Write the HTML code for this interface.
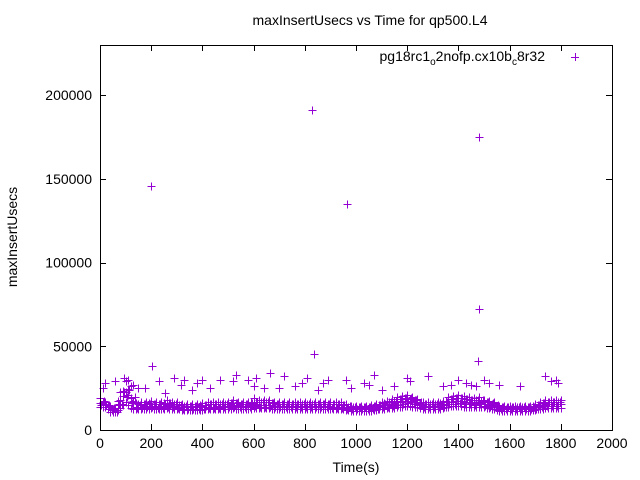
<!DOCTYPE html>
<html><head><meta charset="utf-8">
<style>
html,body{margin:0;padding:0;background:#fff;}
svg{display:block;font-family:"Liberation Sans",sans-serif;}
</style></head>
<body>
<svg id="chart" width="640" height="480" viewBox="0 0 640 480">
<text x="370" y="25" text-anchor="middle" font-size="14">maxInsertUsecs vs Time for qp500.L4</text>
<text transform="translate(17,237) rotate(-90)" text-anchor="middle" font-size="14">maxInsertUsecs</text>
<text x="356" y="472" text-anchor="middle" font-size="14">Time(s)</text>
<g>
<text x="545" y="61" text-anchor="end" font-size="14">pg18rc1<tspan font-size="10" dy="4">o</tspan><tspan dy="-4">2nofp.cx10b</tspan><tspan font-size="10" dy="4">c</tspan><tspan dy="-4">8r32</tspan></text>
<path d="M571 57.5h8M575.5 53v8" stroke="#9400d3" stroke-width="1" shape-rendering="crispEdges"/>
</g>
<g id="axes"></g>
<g id="marks"></g>
<rect x="100.5" y="45.5" width="512" height="385" fill="none" stroke="#000" stroke-width="1" shape-rendering="crispEdges"/>
</svg>
<script>
const times = [0,20,40,60,80,100,120,140,160,180,200,220,240,260,280,300,320,340,360,380,400,420,440,460,480,500,520,540,560,580,600,620,640,660,680,700,720,740,760,780,800,820,840,860,880,900,920,940,960,980,1000,1020,1040,1060,1080,1100,1120,1140,1160,1180,1200,1220,1240,1260,1280,1300,1320,1340,1360,1380,1400,1420,1440,1460,1480,1500,1520,1540,1560,1580,1600,1620,1640,1660,1680,1700,1720,1740,1760,1780,1800];
const lowerVals = [14000,14000,11000,10500,13000,17000,13000,12500,12500,12500,13000,12500,12500,13000,12500,12500,12000,12000,12000,12000,12000,12500,12500,12500,12500,12500,13000,12500,12500,12500,13000,13000,13000,13000,12500,12500,12500,12500,12500,12500,12500,12500,12500,12500,12500,12500,12500,12500,12000,11500,11500,11500,11500,11500,12000,12500,13000,13000,13500,14000,14500,14000,13500,12500,12500,12500,12500,13000,14000,14500,14500,14000,14000,14000,14000,13500,13000,12500,11500,11500,11500,11500,11500,11500,11500,12000,12500,13000,13000,13000,13000];
const midVals = [16000,15500,12500,11500,18000,23000,19000,14000,14000,14500,14500,14000,14000,15000,14500,14000,13500,13500,13500,13500,13500,14000,14000,14000,14500,14500,15000,14500,14500,14500,15500,15000,15000,15000,14500,14500,14500,14500,14500,14500,14500,14500,14500,14500,14500,14000,14000,14000,13500,13000,13000,13000,13000,13000,13500,14500,15000,15500,16500,17000,17500,17000,16000,14500,14500,14500,14500,15000,16500,17000,17500,17000,16500,16000,17000,15500,15000,14500,13000,13000,13000,13000,13000,13000,13000,13500,14500,15500,15500,15500,15500];
const upperVals = [19000,17000,14500,13000,23000,29000,26000,16000,16500,17000,17500,16500,16500,18000,17000,16500,15500,15500,15500,15500,16000,16500,16500,16500,17000,17000,18000,17000,17000,17000,19000,18000,18000,18000,17000,17000,17000,17000,17000,17000,17000,17000,17000,17000,17000,16500,16500,16500,15500,14500,14500,14500,14500,15000,15500,16500,17500,18500,19500,20500,21000,20000,18500,16500,16500,16500,16500,17500,19500,20500,21000,20500,19500,19000,20000,18000,17500,16500,14500,14500,14500,14500,14500,14500,14500,15500,16500,18000,18000,18000,18000];
const outlierTimes = [200,830,835,965,1480,1480,1478,205,10,20,60,95,110,130,150,175,230,255,290,315,330,360,380,400,430,470,520,530,580,600,610,640,665,700,720,760,790,810,850,870,890,960,980,1030,1050,1070,1100,1150,1200,1210,1280,1340,1370,1400,1430,1450,1470,1500,1520,1560,1640,1740,1760,1780,1790];
const outlierVals = [146000,191000,45500,135000,175000,72000,41500,38500,25000,28000,29000,31000,30000,27000,25000,25000,29000,22000,31000,27000,30000,24000,28000,30000,25000,30000,29000,33000,30000,26000,31000,25000,34000,25000,32000,26000,28000,31000,24000,28000,30000,30000,25000,28000,27000,33000,24000,26000,31000,29000,32000,26000,27000,30000,28000,27000,26000,30000,28000,27000,26000,32000,29000,30000,28000];
const xTicks = [0,200,400,600,800,1000,1200,1400,1600,1800,2000];
const yTicks = [0,50000,100000,150000,200000];

const NS = "http://www.w3.org/2000/svg";
const X0=100,X1=612,Y0=430,Y1=45,XMAX=2000,YMAX=230000;
function xs(v){return X0+(v/XMAX)*(X1-X0);}
function ys(v){return Y0-(v/YMAX)*(Y0-Y1);}
const axes=document.getElementById('axes');
xTicks.forEach(t=>{
  const x=Math.round(xs(t))+0.5;
  const p=document.createElementNS(NS,'path');
  p.setAttribute('d',`M${x} ${Y0}v-6M${x} ${Y1}v6`);
  p.setAttribute('stroke','#000');
  p.setAttribute('shape-rendering','crispEdges');
  
  
  axes.appendChild(p);
  const tx=document.createElementNS(NS,'text');
  tx.setAttribute('x',xs(t));tx.setAttribute('y',Y0+18);
  tx.setAttribute('text-anchor','middle');tx.setAttribute('font-size','14');
  tx.textContent=t;
  
  
  axes.appendChild(tx);
});
yTicks.forEach(t=>{
  const y=Math.round(ys(t))+0.5;
  const p=document.createElementNS(NS,'path');
  p.setAttribute('d',`M${X0} ${y}h6M${X1} ${y}h-6`);
  p.setAttribute('stroke','#000');
  p.setAttribute('shape-rendering','crispEdges');
  
  
  axes.appendChild(p);
  const tx=document.createElementNS(NS,'text');
  tx.setAttribute('x',X0-8);tx.setAttribute('y',ys(t)+5);
  tx.setAttribute('text-anchor','end');tx.setAttribute('font-size','14');
  tx.textContent=t;
  
  
  axes.appendChild(tx);
});
const marks=document.getElementById('marks');
let d='';
function plus(t,v){const x=Math.round(xs(t))+0.5,y=Math.round(ys(v))+0.5;d+=`M${x-4} ${y}h8M${x} ${y-4}v8`;}
times.forEach((t,i)=>{plus(t,lowerVals[i]);plus(t,midVals[i]);plus(t,upperVals[i]);});
for(let i=0;i<times.length-1;i++){
  const tm=(times[i]+times[i+1])/2;
  plus(tm,(lowerVals[i]+lowerVals[i+1])/2);
  plus(tm,(midVals[i]+midVals[i+1])/2);
  plus(tm,(midVals[i]+upperVals[i+1])/2);
  plus(times[i]+5,(lowerVals[i]+midVals[i])/2);
  plus(times[i]+15,(midVals[i+1]+upperVals[i])/2);
}
outlierTimes.forEach((t,i)=>plus(t,outlierVals[i]));
const path=document.createElementNS(NS,'path');
path.setAttribute('d',d);
path.setAttribute('stroke','#9400d3');
path.setAttribute('fill','none');
path.setAttribute('shape-rendering','crispEdges');


marks.appendChild(path);
</script>
</body></html>
